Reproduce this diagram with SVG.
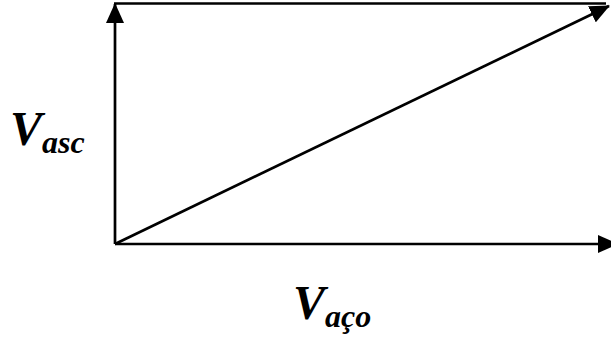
<svg xmlns="http://www.w3.org/2000/svg" width="611" height="341" viewBox="0 0 611 341">
<style>
.ln{stroke:#000;stroke-width:2.7;fill:none}
.v{font-family:"Liberation Serif","Times New Roman",serif;font-weight:bold;font-style:italic;fill:#000}
</style>
<defs>
<marker id="ah" viewBox="0 0 20 18" refX="19" refY="9" markerWidth="20" markerHeight="18" markerUnits="userSpaceOnUse" orient="auto">
<path d="M0,0 L20,9 L0,18 Z" fill="#000"/>
</marker>
</defs>
<rect width="611" height="341" fill="#fff"/>
<g id="connectors">
<line class="ln" x1="115" y1="244" x2="115" y2="4" marker-end="url(#ah)"/>
<line class="ln" x1="115" y1="244" x2="617" y2="244" marker-end="url(#ah)"/>
<line class="ln" x1="114" y1="3.5" x2="606" y2="3.5"/>
<line class="ln" x1="115" y1="244" x2="609" y2="6" marker-end="url(#ah)"/>
</g>
<g id="label-vasc">
<text class="v" x="10" y="145" font-size="48">V<tspan font-size="32" dy="8">asc</tspan></text>
</g>
<g id="label-vaco">
<text class="v" x="293" y="319" font-size="48">V<tspan font-size="32" dy="8">aço</tspan></text>
</g>
</svg>
